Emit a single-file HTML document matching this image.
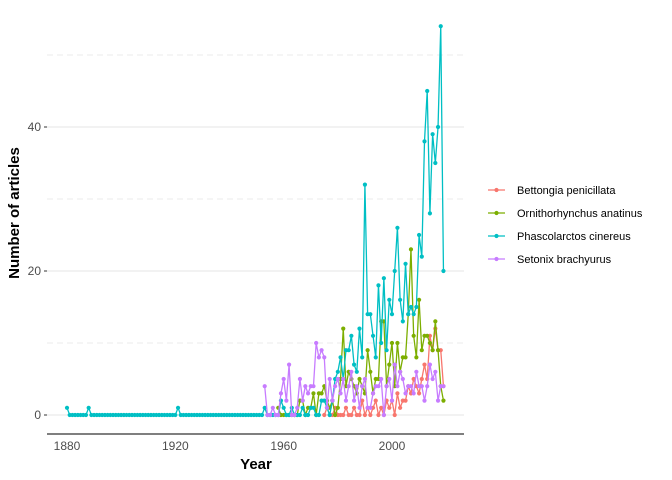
<!DOCTYPE html>
<html><head><meta charset="utf-8"><style>
body{margin:0;background:#fff;font-family:"Liberation Sans",sans-serif}
</style></head><body>
<svg id="chart" width="672" height="480" style="display:block">
<g id="grid"></g><g id="marks"></g><g id="axes"></g><g id="legend"></g>
</svg>
<script>
const startYear=1880,endYear=2019;
const speciesNames=["Bettongia penicillata","Ornithorhynchus anatinus","Phascolarctos cinereus","Setonix brachyurus"];
const speciesColors=["#F8766D","#7CAE00","#00BFC4","#C77CFF"];
const bettonYears=[1975,2019];
const bettonVals=[0,1,0,0,1,0,0,0,1,0,0,1,0,0,2,0,1,0,1,2,0,1,0,2,1,2,0,3,1,2,2,4,3,5,4,3,5,7,5,11,9,12,9,9,4];
const ornithoYears=[1958,2019];
const ornithoVals=[1,0,0,0,0,0,0,0,2,2,0,1,1,3,0,3,3,4,2,1,2,0,1,5,12,4,6,5,4,3,5,4,3,9,6,3,5,5,13,13,4,7,10,4,10,6,8,8,14,23,11,8,16,9,11,11,10,9,13,9,4,2];
const phascoYears=[1880,2019];
const phascoEarly={1880:1,1888:1,1921:1};
const phascoLate=[1,0,0,0,0,0,2,1,0,0,1,0,0,0,1,0,0,1,1,0,0,2,2,1,0,2,5,6,8,5,9,9,11,7,6,12,8,32,14,14,11,8,18,10,19,9,16,14,20,26,16,13,21,14,15,14,15,25,22,38,45,28,39,35,40,54,20];
const setonixYears=[1953,2019];
const setonixVals=[4,0,0,1,0,0,3,5,2,7,0,0,1,5,2,4,3,4,4,10,8,9,8,1,5,2,4,5,3,5,2,4,6,2,4,1,4,5,1,1,3,4,4,5,0,4,5,2,7,4,6,5,3,4,4,3,6,4,4,2,4,7,5,6,2,4,4];
const xTicks=[1880,1920,1960,2000];
const yTicks=[0,20,40];
const yMinor=[10,30,50];

const NS="http://www.w3.org/2000/svg";
const x=y=>67+(y-1880)*(392-67)/120;
const yS=v=>415-v*7.2;
function mk(tag,attrs,parent,text){const e=document.createElementNS(NS,tag);for(const k in attrs)e.setAttribute(k,attrs[k]);if(text!==undefined)e.textContent=text;document.getElementById(parent).appendChild(e);return e;}

function series(startY,vals){return vals.map((v,i)=>[startY+i,v]);}
const phascoVals=[];
for(let yr=1880;yr<1953;yr++)phascoVals.push(phascoEarly[yr]||0);
const allPhasco=phascoVals.concat(phascoLate);
const data=[series(bettonYears[0],bettonVals),series(ornithoYears[0],ornithoVals),series(phascoYears[0],allPhasco),series(setonixYears[0],setonixVals)];

yMinor.forEach(v=>{const l=mk('line',{x1:47,x2:464,y1:yS(v),y2:yS(v),stroke:'#ebebeb','stroke-width':1,'stroke-dasharray':'6,4'},'grid');
});
yTicks.forEach(v=>{const l=mk('line',{x1:47,x2:464,y1:yS(v),y2:yS(v),stroke:'#e5e5e5','stroke-width':1.1},'grid');

const t=mk('text',{x:41,y:yS(v)+4,'text-anchor':'end','font-size':12,fill:'#4d4d4d'},'axes',v);

const tk=mk('line',{x1:44,x2:47,y1:yS(v),y2:yS(v),stroke:'#333'},'axes');
});
xTicks.forEach(v=>{const t=mk('text',{x:x(v),y:450,'text-anchor':'middle','font-size':12,fill:'#4d4d4d'},'axes',v);
});
const ax=mk('line',{x1:47,x2:464,y1:434,y2:434,stroke:'#333','stroke-width':1.2},'axes');

const xt=mk('text',{x:256,y:469,'text-anchor':'middle','font-size':15,'font-weight':'bold'},'axes','Year');

const yt=mk('text',{x:19,y:213,'text-anchor':'middle','font-size':15,'font-weight':'bold',transform:'rotate(-90 19 213)'},'axes','Number of articles');


data.forEach((s,si)=>{
 const g=mk('g',{},'marks');
 
 
 const p=document.createElementNS(NS,'polyline');
 p.setAttribute('points',s.map(d=>x(d[0])+','+yS(d[1])).join(' '));
 p.setAttribute('fill','none');p.setAttribute('stroke',speciesColors[si]);p.setAttribute('stroke-width',1.3);
 
 
 g.appendChild(p);
 s.forEach(d=>{const c=document.createElementNS(NS,'circle');
  c.setAttribute('cx',x(d[0]));c.setAttribute('cy',yS(d[1]));c.setAttribute('r',2.1);c.setAttribute('fill',speciesColors[si]);
  
  
  g.appendChild(c);});
});

speciesNames.forEach((n,i)=>{const yy=190+i*23;
 const g=mk('g',{},'legend');
 
 const l=document.createElementNS(NS,'line');l.setAttribute('x1',488);l.setAttribute('x2',505);l.setAttribute('y1',yy);l.setAttribute('y2',yy);l.setAttribute('stroke',speciesColors[i]);l.setAttribute('stroke-width',1.3);g.appendChild(l);
 const c=document.createElementNS(NS,'circle');c.setAttribute('cx',496.5);c.setAttribute('cy',yy);c.setAttribute('r',2.1);c.setAttribute('fill',speciesColors[i]);g.appendChild(c);
 const t=document.createElementNS(NS,'text');t.setAttribute('x',517);t.setAttribute('y',yy+4);t.setAttribute('font-size',11);t.setAttribute('fill','#000');t.textContent=n;g.appendChild(t);
});
</script>
</body></html>
